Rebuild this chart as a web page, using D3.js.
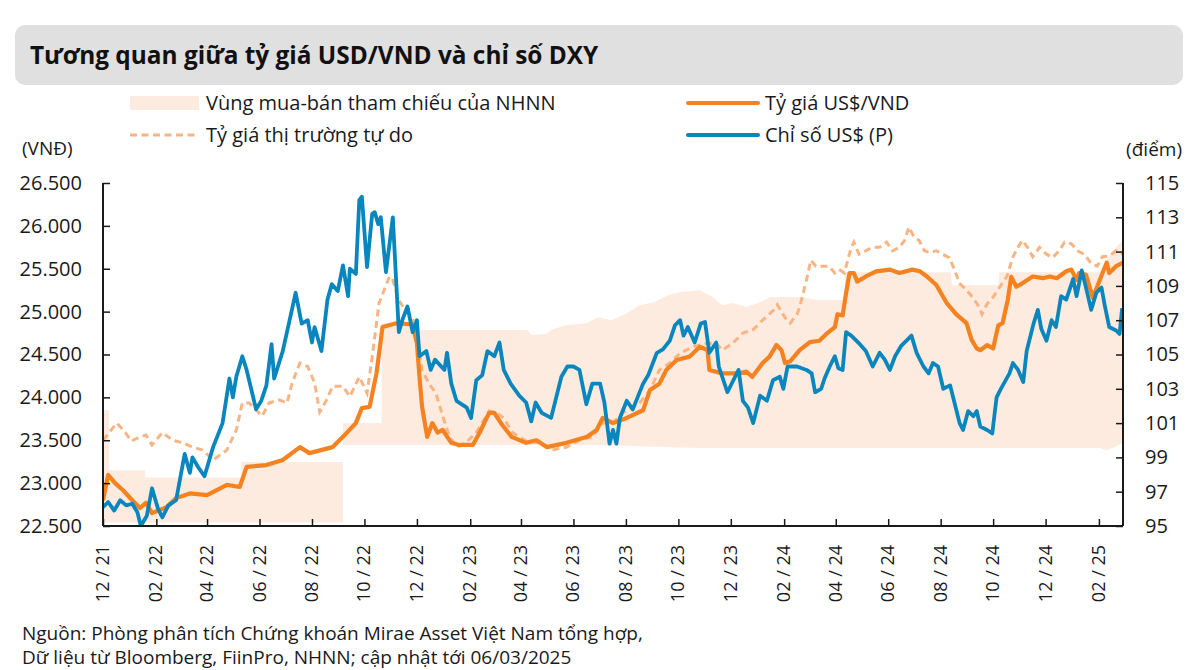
<!DOCTYPE html>
<html>
<head>
<meta charset="utf-8">
<script src="https://cdn.jsdelivr.net/npm/d3@7"></script>
<style>
  html, body { margin: 0; padding: 0; background: #ffffff; }
  svg { display: block; font-family: "Open Sans", "Noto Sans", sans-serif; }
</style>
</head>
<body>
<svg id="chart" width="1200" height="670"></svg>
<script>
// ---------------- DATA ----------------
const titleText = "Tương quan giữa tỷ giá USD/VND và chỉ số DXY";
const legendLabels = ["Vùng mua-bán tham chiếu của NHNN", "Tỷ giá thị trường tự do", "Tỷ giá US$/VND", "Chỉ số US$ (P)"];
const sourceLines = ["Nguồn: Phòng phân tích Chứng khoán Mirae Asset Việt Nam tổng hợp,",
                     "Dữ liệu từ Bloomberg, FiinPro, NHNN; cập nhật tới 06/03/2025"];
const leftTicks = [22500, 23000, 23500, 24000, 24500, 25000, 25500, 26000, 26500];
const rightTicks = [95, 97, 99, 101, 103, 105, 107, 109, 111, 113, 115];
const xTickDates = ["2021-12-01","2022-02-01","2022-04-01","2022-06-01","2022-08-01","2022-10-01","2022-12-01",
  "2023-02-01","2023-04-01","2023-06-01","2023-08-01","2023-10-01","2023-12-01","2024-02-01","2024-04-01",
  "2024-06-01","2024-08-01","2024-10-01","2024-12-01","2025-02-01"];

// NHNN reference buy-sell band: [date, low, high]
const band = [
  ["2021-12-01",22540,23850],["2021-12-08",22540,23850],["2021-12-08",22540,23150],["2022-01-19",22540,23150],
  ["2022-01-19",22540,23065],["2022-05-11",22540,23065],["2022-05-11",22540,23245],["2022-09-06",22540,23245],
  ["2022-09-06",23445,23700],["2022-10-21",23445,23700],["2022-10-21",23445,24865],["2022-12-03",23445,24865],
  ["2022-12-05",23445,24785],["2023-04-08",23445,24785],["2023-04-13",23445,24730],["2023-04-30",23445,24740],
  ["2023-05-06",23445,24785],["2023-05-23",23445,24840],["2023-06-16",23445,24865],["2023-06-30",23445,24935],
  ["2023-07-15",23440,24900],["2023-08-02",23435,24980],["2023-08-17",23430,25075],["2023-09-02",23425,25110],
  ["2023-09-19",23420,25190],["2023-10-03",23415,25230],["2023-10-26",23410,25250],["2023-11-10",23410,25170],
  ["2023-11-21",23410,25075],["2023-12-03",23410,25100],["2023-12-19",23410,25055],["2024-01-04",23410,25110],
  ["2024-01-16",23410,25170],["2024-02-19",23410,25170],["2024-03-10",23410,25135],["2024-04-11",23410,25135],
  ["2024-04-12",23410,25460],["2024-08-13",23410,25460],["2024-08-14",23410,25310],["2024-10-07",23410,25310],
  ["2024-10-08",23410,25460],["2025-02-02",23410,25460],["2025-02-10",23380,25600],["2025-02-21",23430,25750],
  ["2025-03-01",23470,25835]
];

// Free market rate (VND)
const freeMarket = [
  ["2021-12-01",23500],["2021-12-17",23700],["2021-12-27",23590],["2022-01-03",23490],["2022-01-13",23540],
  ["2022-01-20",23560],["2022-01-27",23445],["2022-02-08",23590],["2022-02-20",23500],["2022-03-04",23470],
  ["2022-03-15",23420],["2022-03-27",23385],["2022-04-08",23270],["2022-04-24",23385],["2022-05-05",23620],
  ["2022-05-12",23935],["2022-05-20",23935],["2022-06-04",23780],["2022-06-12",23935],["2022-06-24",23970],
  ["2022-07-03",23935],["2022-07-09",24170],["2022-07-18",24400],["2022-07-27",24360],["2022-08-04",24170],
  ["2022-08-10",23830],["2022-08-18",23970],["2022-08-25",24130],["2022-09-06",24130],["2022-09-14",24010],
  ["2022-09-25",24240],["2022-10-04",24050],["2022-10-10",24470],["2022-10-18",25100],["2022-10-30",25405],
  ["2022-11-02",25400],["2022-11-10",25130],["2022-11-18",25010],["2022-11-26",24930],["2022-12-02",24630],
  ["2022-12-07",24320],["2022-12-15",24160],["2022-12-23",24050],["2022-12-31",23780],["2023-01-08",23540],
  ["2023-01-17",23420],["2023-01-28",23480],["2023-02-08",23590],["2023-02-23",23840],["2023-03-03",23820],
  ["2023-03-12",23760],["2023-03-22",23590],["2023-04-07",23490],["2023-04-22",23470],["2023-05-07",23385],
  ["2023-05-24",23420],["2023-06-08",23500],["2023-06-23",23540],["2023-07-05",23700],["2023-07-17",23700],
  ["2023-07-28",23820],["2023-08-17",23935],["2023-08-29",24085],["2023-09-09",24320],["2023-09-21",24400],
  ["2023-10-03",24515],["2023-10-18",24590],["2023-11-03",24630],["2023-11-14",24630],["2023-11-21",24550],
  ["2023-12-03",24630],["2023-12-15",24750],["2023-12-27",24790],["2024-01-07",24900],["2024-01-19",25010],
  ["2024-01-24",25080],["2024-02-02",24930],["2024-02-08",24865],["2024-02-16",24970],["2024-02-19",25050],
  ["2024-02-27",25370],["2024-03-03",25600],["2024-03-09",25530],["2024-03-16",25530],["2024-03-24",25530],
  ["2024-03-31",25450],["2024-04-05",25490],["2024-04-11",25450],["2024-04-19",25750],["2024-04-22",25810],
  ["2024-04-28",25670],["2024-05-06",25710],["2024-05-13",25750],["2024-05-22",25750],["2024-05-30",25810],
  ["2024-06-06",25710],["2024-06-14",25750],["2024-06-20",25830],["2024-06-25",25985],["2024-07-01",25870],
  ["2024-07-07",25830],["2024-07-13",25710],["2024-07-19",25690],["2024-07-27",25710],["2024-08-03",25670],
  ["2024-08-11",25630],["2024-08-17",25490],["2024-08-23",25330],["2024-08-31",25250],["2024-09-07",25170],
  ["2024-09-15",25050],["2024-09-18",24970],["2024-09-24",25090],["2024-10-01",25170],["2024-10-09",25290],
  ["2024-10-17",25410],["2024-10-24",25640],["2024-10-30",25750],["2024-11-04",25830],["2024-11-10",25750],
  ["2024-11-16",25640],["2024-11-24",25750],["2024-12-02",25670],["2024-12-09",25630],["2024-12-17",25710],
  ["2024-12-23",25810],["2024-12-31",25790],["2025-01-07",25710],["2025-01-15",25670],["2025-01-23",25560],
  ["2025-01-30",25530],["2025-02-05",25640],["2025-02-13",25650],["2025-02-21",25710],["2025-03-01",25670]
];

// Official USD/VND rate
const usdVnd = [
  ["2021-12-01",22800],["2021-12-07",23095],["2021-12-15",23000],["2021-12-24",22920],["2022-01-04",22800],
  ["2022-01-13",22710],["2022-01-20",22770],["2022-01-27",22650],["2022-02-13",22720],["2022-02-24",22825],
  ["2022-03-12",22880],["2022-04-01",22860],["2022-04-24",22980],["2022-05-09",22955],["2022-05-17",23190],
  ["2022-06-09",23210],["2022-06-28",23270],["2022-07-18",23420],["2022-07-29",23350],["2022-08-25",23420],
  ["2022-09-06",23540],["2022-09-21",23700],["2022-09-28",23875],["2022-10-07",23890],["2022-10-15",24280],
  ["2022-10-22",24820],["2022-11-07",24865],["2022-11-26",24850],["2022-12-01",24630],["2022-12-04",24240],
  ["2022-12-07",23890],["2022-12-13",23540],["2022-12-19",23700],["2022-12-25",23590],["2022-12-31",23620],
  ["2023-01-10",23470],["2023-01-19",23445],["2023-02-04",23445],["2023-02-12",23590],["2023-02-23",23820],
  ["2023-03-01",23820],["2023-03-10",23680],["2023-03-21",23540],["2023-04-07",23470],["2023-04-19",23500],
  ["2023-05-01",23420],["2023-05-24",23470],["2023-06-17",23540],["2023-06-28",23620],["2023-07-05",23760],
  ["2023-07-17",23700],["2023-08-02",23760],["2023-08-21",23850],["2023-08-29",24085],["2023-09-09",24160],
  ["2023-09-17",24320],["2023-09-29",24435],["2023-10-14",24475],["2023-10-26",24590],["2023-11-04",24550],
  ["2023-11-06",24320],["2023-11-21",24280],["2023-12-11",24280],["2023-12-19",24300],["2023-12-26",24240],
  ["2024-01-07",24400],["2024-01-15",24475],["2024-01-23",24610],["2024-01-29",24550],["2024-02-02",24400],
  ["2024-02-08",24420],["2024-02-19",24550],["2024-03-02",24645],["2024-03-13",24660],["2024-03-21",24740],
  ["2024-03-31",24820],["2024-04-03",24970],["2024-04-09",24955],["2024-04-13",25215],["2024-04-17",25450],
  ["2024-04-22",25450],["2024-04-26",25350],["2024-05-06",25410],["2024-05-18",25470],["2024-06-03",25490],
  ["2024-06-14",25450],["2024-06-29",25490],["2024-07-08",25470],["2024-07-16",25410],["2024-07-27",25310],
  ["2024-08-08",25100],["2024-08-19",24970],["2024-08-31",24865],["2024-09-06",24670],["2024-09-12",24570],
  ["2024-09-16",24550],["2024-09-24",24610],["2024-10-01",24570],["2024-10-07",24840],["2024-10-12",24865],
  ["2024-10-18",25135],["2024-10-22",25405],["2024-10-28",25290],["2024-11-04",25330],["2024-11-16",25410],
  ["2024-11-28",25390],["2024-12-06",25410],["2024-12-14",25390],["2024-12-25",25470],["2024-12-31",25490],
  ["2025-01-06",25370],["2025-01-09",25450],["2025-01-17",25430],["2025-01-25",25160],["2025-02-02",25370],
  ["2025-02-10",25570],["2025-02-13",25450],["2025-02-21",25530],["2025-03-01",25570]
];

// US Dollar index (right axis)
const dxy = [
  ["2021-12-01",96.1],["2021-12-07",96.4],["2021-12-14",95.9],["2021-12-21",96.5],["2021-12-28",96.2],
  ["2022-01-04",96.3],["2022-01-10",95.8],["2022-01-14",95.0],["2022-01-21",95.6],["2022-01-27",97.2],
  ["2022-02-03",96.0],["2022-02-08",95.5],["2022-02-15",96.2],["2022-02-24",96.5],["2022-03-06",99.2],
  ["2022-03-12",98.1],["2022-03-15",99.0],["2022-03-22",98.4],["2022-03-29",97.9],["2022-04-08",99.6],
  ["2022-04-19",101.0],["2022-04-27",103.6],["2022-05-01",102.5],["2022-05-05",103.7],["2022-05-12",104.9],
  ["2022-05-17",104.1],["2022-05-28",101.8],["2022-06-03",102.3],["2022-06-09",103.2],["2022-06-15",105.6],
  ["2022-06-18",103.6],["2022-06-28",105.2],["2022-07-06",107.0],["2022-07-13",108.6],["2022-07-20",106.8],
  ["2022-07-27",107.0],["2022-08-01",105.7],["2022-08-04",106.6],["2022-08-12",105.2],["2022-08-19",108.2],
  ["2022-08-24",109.1],["2022-08-31",108.7],["2022-09-06",110.2],["2022-09-12",108.4],["2022-09-14",110.0],
  ["2022-09-21",109.7],["2022-09-25",114.0],["2022-09-28",114.2],["2022-10-04",110.1],["2022-10-10",113.2],
  ["2022-10-13",113.3],["2022-10-17",112.6],["2022-10-20",113.0],["2022-10-26",109.8],["2022-11-03",113.0],
  ["2022-11-10",106.3],["2022-11-14",107.0],["2022-11-20",107.8],["2022-11-26",106.3],["2022-12-01",107.0],
  ["2022-12-04",104.9],["2022-12-12",105.2],["2022-12-17",104.1],["2022-12-22",104.7],["2023-01-02",104.1],
  ["2023-01-05",105.1],["2023-01-10",103.3],["2023-01-16",102.3],["2023-01-28",101.9],["2023-02-02",101.3],
  ["2023-02-08",103.5],["2023-02-15",103.8],["2023-02-21",105.2],["2023-03-01",104.9],["2023-03-07",105.7],
  ["2023-03-12",104.1],["2023-03-20",103.3],["2023-03-30",102.6],["2023-04-07",102.2],["2023-04-13",101.1],
  ["2023-04-18",102.2],["2023-04-25",101.6],["2023-05-06",101.3],["2023-05-12",102.5],["2023-05-18",103.7],
  ["2023-05-25",104.3],["2023-06-01",104.3],["2023-06-08",104.1],["2023-06-16",102.1],["2023-06-23",103.3],
  ["2023-07-02",103.3],["2023-07-07",102.2],["2023-07-13",99.8],["2023-07-17",100.6],["2023-07-21",99.8],
  ["2023-07-25",101.3],["2023-08-02",102.3],["2023-08-09",101.8],["2023-08-21",103.3],["2023-08-27",103.8],
  ["2023-09-06",105.1],["2023-09-13",105.3],["2023-09-21",105.8],["2023-09-27",106.7],["2023-10-03",107.0],
  ["2023-10-07",106.1],["2023-10-12",106.6],["2023-10-20",105.7],["2023-10-27",106.8],["2023-11-01",106.9],
  ["2023-11-06",105.1],["2023-11-14",105.7],["2023-11-17",104.3],["2023-11-27",102.8],["2023-12-10",104.1],
  ["2023-12-15",102.3],["2023-12-21",101.9],["2023-12-27",101.0],["2024-01-04",102.6],["2024-01-12",102.3],
  ["2024-01-19",103.5],["2024-01-27",103.7],["2024-01-31",103.0],["2024-02-05",104.3],["2024-02-16",104.3],
  ["2024-02-27",104.1],["2024-03-04",103.9],["2024-03-08",102.8],["2024-03-15",103.0],["2024-03-19",103.6],
  ["2024-03-25",104.3],["2024-03-31",104.9],["2024-04-04",104.2],["2024-04-09",104.1],["2024-04-13",106.3],
  ["2024-04-19",106.1],["2024-04-29",105.6],["2024-05-06",105.2],["2024-05-14",104.3],["2024-05-22",105.1],
  ["2024-05-28",104.7],["2024-06-03",104.1],["2024-06-09",104.9],["2024-06-16",105.5],["2024-06-22",105.8],
  ["2024-06-28",106.1],["2024-07-04",105.1],["2024-07-12",104.3],["2024-07-18",103.9],["2024-07-23",104.5],
  ["2024-07-29",104.3],["2024-08-04",103.0],["2024-08-12",103.2],["2024-08-17",102.2],["2024-08-23",101.0],
  ["2024-08-27",100.6],["2024-09-02",101.7],["2024-09-08",101.4],["2024-09-12",101.7],["2024-09-16",100.8],
  ["2024-09-24",100.6],["2024-09-30",100.4],["2024-10-05",102.5],["2024-10-10",103.0],["2024-10-20",103.9],
  ["2024-10-24",104.5],["2024-10-30",104.1],["2024-11-05",103.4],["2024-11-09",105.2],["2024-11-17",106.8],
  ["2024-11-22",107.6],["2024-11-26",106.5],["2024-12-02",105.8],["2024-12-08",107.0],["2024-12-13",106.6],
  ["2024-12-19",108.4],["2024-12-25",108.2],["2025-01-02",109.4],["2025-01-06",108.4],["2025-01-12",109.9],
  ["2025-01-17",108.9],["2025-01-23",107.6],["2025-01-29",108.6],["2025-02-04",108.9],["2025-02-08",107.8],
  ["2025-02-13",106.6],["2025-02-21",106.4],["2025-02-25",106.2],["2025-02-28",107.7]
];

// ---------------- CHART ----------------
const parse = d3.timeParse("%Y-%m-%d");
const C = { band: "#fdebdf", free: "#f8b583", vnd: "#f58220", dxy: "#0a86bf", text: "#1a1a1a", axis: "#1a1a1a" };
const svg = d3.select("#chart");
const pL = 103, pR = 1123, pT = 183, pB = 526;

const x = d3.scaleTime().domain([parse("2021-12-01"), parse("2025-03-01")]).range([pL, pR]);
const yL = d3.scaleLinear().domain([22500, 26500]).range([pB, pT]);
const yR = d3.scaleLinear().domain([95, 115]).range([pB, pT]);

// Title box
svg.append("rect").attr("x", 15).attr("y", 25).attr("width", 1168).attr("height", 60)
  .attr("rx", 10).attr("fill", "#e0e0e0");
svg.append("text").attr("x", 30).attr("y", 64).attr("font-size", 24.4).attr("font-weight", 700)
  .attr("fill", "#111").text(titleText);

// Legend
const lg = svg.append("g").attr("font-size", 20).attr("fill", C.text);
lg.append("rect").attr("x", 130).attr("y", 96).attr("width", 69).attr("height", 14).attr("fill", C.band);
lg.append("text").attr("x", 206).attr("y", 110).text(legendLabels[0]);
lg.append("line").attr("x1", 130).attr("x2", 199).attr("y1", 135).attr("y2", 135)
  .attr("stroke", C.free).attr("stroke-width", 3).attr("stroke-dasharray", "7,4.5");
lg.append("text").attr("x", 206).attr("y", 142).text(legendLabels[1]);
lg.append("line").attr("x1", 688).attr("x2", 758).attr("y1", 103).attr("y2", 103)
  .attr("stroke", C.vnd).attr("stroke-width", 4).attr("stroke-linecap", "round");
lg.append("text").attr("x", 765).attr("y", 110).text(legendLabels[2]);
lg.append("line").attr("x1", 688).attr("x2", 758).attr("y1", 135).attr("y2", 135)
  .attr("stroke", C.dxy).attr("stroke-width", 4).attr("stroke-linecap", "round");
lg.append("text").attr("x", 765).attr("y", 142).text(legendLabels[3]);

// Axis unit labels
svg.append("text").attr("x", 22).attr("y", 155).attr("font-size", 19).attr("fill", C.text).text("(VNĐ)");
svg.append("text").attr("x", 1182).attr("y", 156).attr("font-size", 19).attr("fill", C.text)
  .attr("text-anchor", "end").text("(điểm)");

// Clip
svg.append("clipPath").attr("id", "plot").append("rect")
  .attr("x", pL).attr("y", pT - 5).attr("width", pR - pL).attr("height", pB - pT + 5);
const plot = svg.append("g").attr("clip-path", "url(#plot)");

// Band
const area = d3.area().x(d => x(parse(d[0]))).y0(d => yL(d[1])).y1(d => yL(d[2]));
plot.append("path").datum(band).attr("d", area).attr("fill", C.band);

// Lines
const lineL = d3.line().x(d => x(parse(d[0]))).y(d => yL(d[1]));
const lineR = d3.line().x(d => x(parse(d[0]))).y(d => yR(d[1]));
plot.append("path").datum(freeMarket).attr("d", lineL).attr("fill", "none")
  .attr("stroke", C.free).attr("stroke-width", 3).attr("stroke-dasharray", "7,4.5");
plot.append("path").datum(usdVnd).attr("d", lineL).attr("fill", "none")
  .attr("stroke", C.vnd).attr("stroke-width", 4.2).attr("stroke-linejoin", "round");
plot.append("path").datum(dxy).attr("d", lineR).attr("fill", "none")
  .attr("stroke", C.dxy).attr("stroke-width", 3.8).attr("stroke-linejoin", "round");

// Axes
const axL = svg.append("g").attr("transform", `translate(${pL},0)`)
  .call(d3.axisLeft(yL).tickValues(leftTicks).tickSize(-7).tickPadding(21)
    .tickFormat(d => d3.format(",")(d).replace(",", ".")));
const axR = svg.append("g").attr("transform", `translate(${pR},0)`)
  .call(d3.axisRight(yR).tickValues(rightTicks).tickSize(-7).tickPadding(22));
const axB = svg.append("g").attr("transform", `translate(0,${pB})`)
  .call(d3.axisBottom(x).tickValues(xTickDates.map(parse)).tickSize(-7).tickFormat(() => ""));
[axL, axR, axB].forEach(g => {
  g.select(".domain").attr("stroke", C.axis).attr("stroke-width", 2);
  g.selectAll(".tick line").attr("stroke", C.axis).attr("stroke-width", 1.5);
  g.selectAll("text").attr("font-size", 20).attr("fill", C.text).attr("font-family", "Open Sans, Noto Sans, sans-serif");
});
axL.select(".domain").attr("d", `M0,${pT}V${pB}`);
axR.select(".domain").attr("d", `M0,${pT}V${pB}`);
axB.select(".domain").attr("d", `M${pL},0H${pR}`);

// X tick labels (rotated)
const fmt = d3.timeFormat("%m / %y");
svg.append("g").selectAll("text").data(xTickDates).join("text")
  .attr("transform", d => `translate(${x(parse(d)) + 6},545) rotate(-90)`)
  .attr("text-anchor", "end").attr("font-size", 18).attr("fill", C.text)
  .text(d => fmt(parse(d)));

// Source
svg.append("g").attr("font-size", 19).attr("fill", C.text).selectAll("text").data(sourceLines).join("text")
  .attr("x", 22).attr("y", (d, i) => 640 + i * 24).text(d => d);
</script>
</body>
</html>
